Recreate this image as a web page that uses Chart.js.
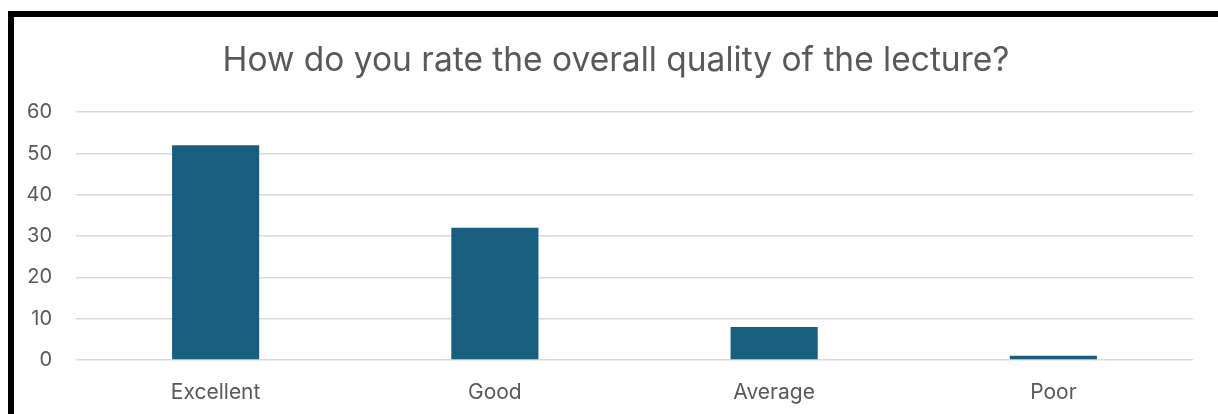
<!DOCTYPE html>
<html>
<head>
<meta charset="utf-8">
<script src="https://cdn.jsdelivr.net/npm/chart.js@4"></script>
<style>
  html, body { margin: 0; padding: 0; background: #fff; }
  #wrap { position: relative; width: 1218px; height: 414px; overflow: hidden; }
  #frame { position: absolute; left: 8px; top: 11px; width: 1300px; height: 500px;
           border-left: 6px solid #000; border-top: 6px solid #000; box-sizing: border-box; }
  canvas { position: absolute; left: 0; top: 0; }
</style>
</head>
<body>
<div id="wrap">
  <div id="frame"></div>
  <canvas id="c" width="1218" height="414"></canvas>
</div>
<script>
const titleText = "How do you rate the overall quality of the lecture?";
const categories = ["Excellent", "Good", "Average", "Poor"];
const ratingCounts = [52, 32, 8, 1];
const yTicks = [0, 10, 20, 30, 40, 50, 60];

const fontFamily = "Inter, 'Open Sans', sans-serif";
const textColor = "#595959";

new Chart(document.getElementById("c"), {
  type: "bar",
  data: {
    labels: categories,
    datasets: [{
      data: ratingCounts,
      backgroundColor: "#185f7f",
      borderWidth: 0,
      categoryPercentage: 1.0,
      barPercentage: 0.312
    }]
  },
  options: {
    responsive: false,
    animation: false,
    devicePixelRatio: 1,
    layout: { padding: { left: 14, right: 0, top: 17, bottom: 0 } },
    plugins: {
      legend: { display: false },
      tooltip: { enabled: false },
      title: {
        display: true,
        text: titleText,
        color: textColor,
        font: { family: fontFamily, size: 33.5, weight: "normal" },
        padding: { top: 24, bottom: 31 }
      }
    },
    scales: {
      x: {
        grid: { display: false },
        border: { display: false },
        ticks: { color: textColor, font: { family: fontFamily, size: 21 }, padding: 12, maxRotation: 0 },
        afterFit(a) { a.height = 54; }
      },
      y: {
        min: 0, max: 60,
        afterBuildTicks(a) { a.ticks = yTicks.map(v => ({ value: v })); },
        grid: { color: "#d9d9d9", lineWidth: 1.5, drawTicks: false },
        border: { display: false },
        ticks: { color: textColor, font: { family: fontFamily, size: 20 }, padding: 24 },
        afterFit(a) { a.width = 62; }
      },
      yR: {
        position: "right",
        display: true,
        grid: { display: false, drawTicks: false },
        border: { display: false },
        ticks: { display: false },
        afterFit(a) { a.width = 25; }
      }
    }
  }
});
</script>
</body>
</html>
